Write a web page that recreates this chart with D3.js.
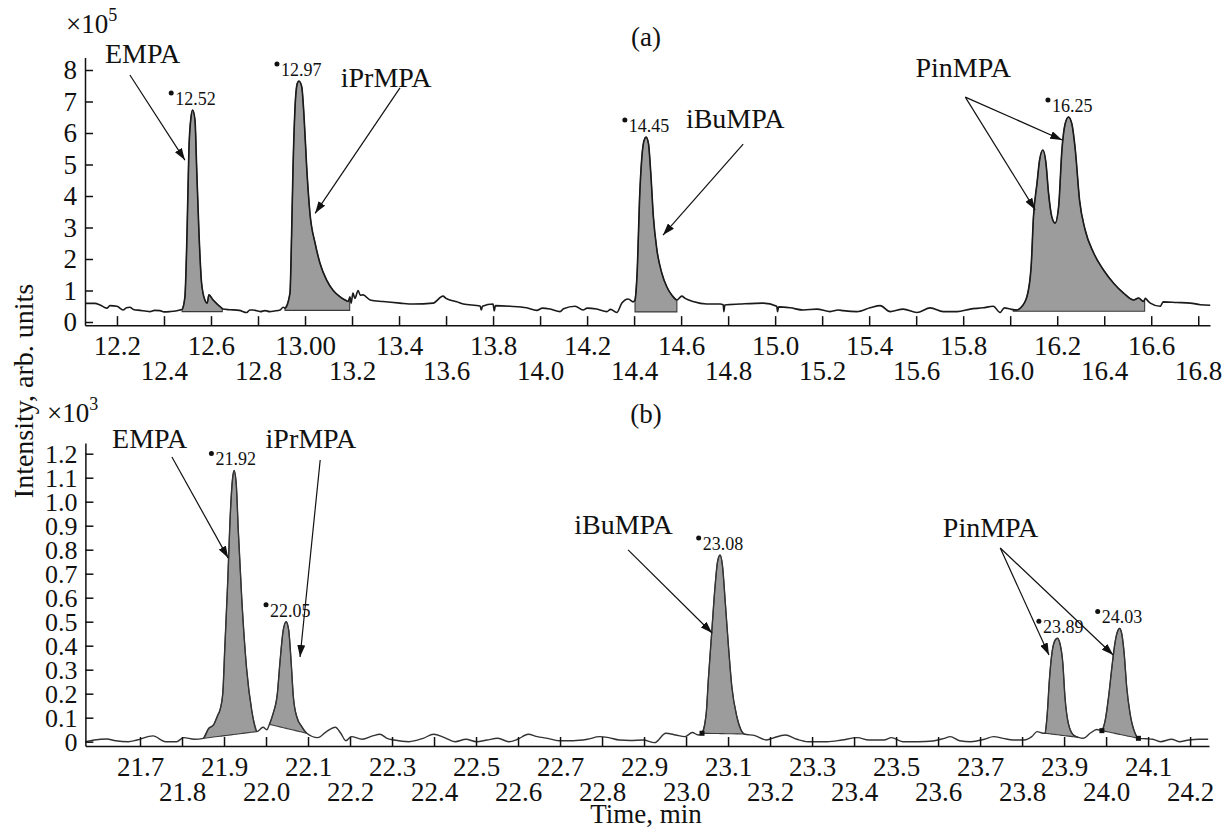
<!DOCTYPE html>
<html>
<head>
<meta charset="utf-8">
<script src="https://cdn.jsdelivr.net/npm/d3@7.9.0/dist/d3.min.js"></script>
<style>
  body { margin: 0; background: #fff; }
  svg { display: block; }
  text { font-family: "Liberation Serif", "Times New Roman", serif; fill: #111; }
</style>
</head>
<body>
<svg id="chart" width="1224" height="831"></svg>
<script>
// chromatogram (a), time in min, intensity x10^5
const traceA = [
  [12.064,0.59],[12.106,0.59],[12.128,0.54],[12.157,0.44],[12.17,0.52],[12.2,0.5],[12.226,0.38],[12.24,0.45],
  [12.255,0.47],[12.27,0.4],[12.298,0.37],[12.32,0.35],[12.34,0.33],[12.36,0.37],[12.383,0.36],[12.40,0.32],
  [12.425,0.33],[12.45,0.35],[12.468,0.38],[12.477,0.40],
  [12.489,0.8],[12.498,2.8],[12.506,5.46],[12.515,6.5],[12.522,6.73],[12.532,6.4],[12.539,4.9],[12.549,2.8],
  [12.56,1.23],[12.574,0.7],[12.584,0.6],[12.591,0.86],[12.609,0.7],[12.646,0.44],
  [12.651,0.41],[12.68,0.39],[12.72,0.37],[12.752,0.3],[12.765,0.38],[12.779,0.38],[12.81,0.33],[12.83,0.36],
  [12.85,0.33],[12.87,0.35],[12.894,0.38],[12.907,0.47],
  [12.915,0.44],[12.936,0.92],[12.943,2.8],[12.949,4.9],[12.957,6.73],[12.967,7.57],[12.974,7.65],[12.986,7.47],
  [12.996,6.5],[13.007,4.93],[13.021,3.45],[13.043,2.5],[13.064,1.86],[13.092,1.33],[13.12,1.0],[13.149,0.8],
  [13.175,0.68],[13.184,0.65],[13.191,0.8],[13.196,0.6],[13.204,0.92],[13.212,0.75],[13.226,1.0],[13.235,0.85],
  [13.247,0.86],[13.277,0.7],[13.332,0.65],[13.404,0.6],[13.46,0.57],[13.545,0.6],[13.587,0.82],[13.60,0.75],
  [13.617,0.7],[13.646,0.64],[13.673,0.57],[13.745,0.51],[13.75,0.38],[13.755,0.5],[13.8,0.57],[13.805,0.35],
  [13.81,0.52],[13.872,0.5],[13.943,0.45],[13.986,0.37],[14.01,0.44],[14.043,0.41],[14.085,0.33],[14.1,0.42],
  [14.149,0.5],[14.183,0.38],[14.2,0.44],[14.241,0.41],[14.284,0.33],[14.3,0.40],[14.326,0.30],[14.348,0.6],
  [14.375,0.73],[14.396,0.64],
  [14.404,0.7],[14.414,1.75],[14.423,3.87],[14.433,5.24],[14.443,5.78],[14.451,5.87],[14.461,5.67],[14.471,4.72],
  [14.482,3.34],[14.497,2.29],[14.518,1.55],[14.539,1.12],[14.56,0.86],[14.582,0.7],[14.603,0.82],[14.617,0.75],
  [14.651,0.65],[14.709,0.57],[14.766,0.57],[14.779,0.55],[14.782,0.33],[14.786,0.54],[14.851,0.57],[14.949,0.6],
  [15.007,0.5],[15.01,0.33],[15.015,0.48],[15.064,0.45],[15.12,0.38],[15.177,0.41],[15.234,0.33],[15.268,0.38],
  [15.289,0.36],[15.348,0.33],[15.404,0.45],[15.447,0.52],[15.489,0.33],[15.545,0.41],[15.603,0.30],[15.66,0.45],
  [15.715,0.33],[15.774,0.33],[15.83,0.41],[15.885,0.45],[15.928,0.5],[15.957,0.30],[15.975,0.45],[16.0,0.41],
  [16.028,0.38],
  [16.043,0.44],[16.071,0.8],[16.089,1.75],[16.099,3.34],[16.114,4.4],[16.125,5.14],[16.139,5.46],[16.152,5.05],
  [16.163,4.1],[16.177,3.34],[16.191,3.14],[16.206,3.66],[16.22,5.46],[16.234,6.3],[16.248,6.51],[16.262,6.3],
  [16.277,5.46],[16.295,3.87],[16.319,2.92],[16.355,2.19],[16.397,1.65],[16.44,1.23],[16.482,0.92],[16.525,0.7],
  [16.546,0.76],[16.567,0.65],[16.575,0.75],[16.582,0.7],[16.596,0.6],[16.638,0.5],[16.651,0.64],[16.709,0.62],
  [16.766,0.6],[16.809,0.55],[16.851,0.53]
];

// chromatogram (b), time in min, intensity x10^3
const traceB = [
  [21.570,0],[21.591,0.007],[21.621,0.011],[21.642,0.004],[21.672,0],[21.693,0.007],[21.731,0.024],[21.761,0],
  [21.787,0],[21.804,0.017],[21.829,0.01],[21.851,0.014],
  [21.863,0.054],[21.875,0.07],[21.885,0.11],[21.89,0.13],[21.897,0.2],[21.902,0.396],[21.909,0.674],[21.914,0.91],
  [21.92,1.09],[21.924,1.13],[21.929,1.077],[21.934,0.88],[21.942,0.604],[21.954,0.3],[21.966,0.13],[21.978,0.042],
  [21.993,0.06],[22.002,0.05],[22.008,0.072],
  [22.017,0.118],[22.027,0.2],[22.033,0.327],[22.041,0.465],[22.048,0.5],[22.054,0.465],[22.06,0.327],[22.065,0.188],
  [22.073,0.105],[22.085,0.063],[22.097,0.035],
  [22.123,0.017],[22.144,0.042],[22.165,0.06],[22.178,0.035],[22.19,0.004],[22.203,0.021],[22.229,0.01],[22.254,0.024],
  [22.271,0.031],[22.288,0.014],[22.305,0.007],[22.34,0],[22.374,0.014],[22.399,0.031],[22.425,0.017],[22.45,0],
  [22.476,0.01],[22.501,0],[22.526,0.007],[22.552,0.014],[22.578,0],[22.599,0.01],[22.624,0.031],[22.646,0.021],
  [22.671,0.014],[22.697,0.004],[22.731,0.004],[22.765,0.01],[22.794,0.021],[22.816,0.017],[22.841,0.007],[22.867,0.005],
  [22.898,0.007],[22.925,-0.004],[22.952,0.035],[22.975,0.028],[22.997,0.021],[23.015,0.038],[23.029,0.028],[23.038,0.035],
  [23.048,0.118],[23.053,0.257],[23.061,0.452],[23.069,0.646],[23.075,0.75],[23.081,0.778],[23.087,0.729],[23.093,0.59],
  [23.101,0.396],[23.109,0.229],[23.121,0.104],[23.133,0.042],[23.138,0.032],
  [23.164,0.025],[23.191,0.007],[23.205,0.014],[23.236,0.028],[23.264,0.01],[23.29,0],[23.336,0],[23.371,0.007],
  [23.408,0.017],[23.435,0.007],[23.471,0.007],[23.489,0.017],[23.516,0],[23.552,0],[23.588,0.003],[23.615,0.014],
  [23.629,0.021],[23.651,0.004],[23.678,0],[23.71,0.01],[23.732,0.021],[23.755,0.014],[23.778,0.007],[23.805,0.007],
  [23.823,0.021],[23.836,0.042],[23.85,0.035],
  [23.855,0.035],[23.86,0.118],[23.865,0.257],[23.871,0.368],[23.877,0.417],[23.884,0.431],[23.89,0.41],[23.897,0.327],
  [23.902,0.188],[23.91,0.077],[23.922,0.028],[23.934,0.018],[23.946,0.014],[23.962,0.035],[23.978,0.051],[23.99,0.046],
  [23.998,0.09],[24.006,0.188],[24.014,0.313],[24.021,0.41],[24.027,0.458],[24.032,0.472],[24.037,0.452],[24.043,0.368],
  [24.049,0.229],[24.057,0.118],[24.069,0.035],[24.077,0.014],
  [24.095,0.012],[24.111,0.01],[24.129,0],[24.156,0.01],[24.174,0],[24.197,0.007],[24.22,0.01],[24.243,0.01]
];

// integrated peaks: start/end time and baseline level at each end
const areasA = [[12.477,12.648,0.33,0.33],[12.915,13.19,0.37,0.37],[14.404,14.582,0.32,0.32],[16.013,16.572,0.34,0.34]];
const areasB = [[21.851,21.978,0.014,0.042],[22.008,22.097,0.072,0.035],[23.038,23.138,0.035,0.032],
                [23.855,23.934,0.035,0.018],[23.99,24.077,0.046,0.014]];
const marksB = [[23.038,0.035],[23.99,0.046],[24.077,0.014]];

const peaksA = ["12.52","12.97","14.45","16.25"];
const peaksB = ["21.92","22.05","23.08","23.89","24.03"];

const xTicksA = [12.2,12.4,12.6,12.8,13.0,13.2,13.4,13.6,13.8,14.0,14.2,14.4,14.6,14.8,15.0,15.2,15.4,15.6,15.8,16.0,16.2,16.4,16.6,16.8];
const xLabelsA = ["12.2","12.4","12.6","12.8","13.00","13.2","13.4","13.6","13.8","14.0","14.2","14.4","14.6","14.8","15.0","15.2","15.4","15.6","15.8","16.0","16.2","16.4","16.6","16.8"];
const yTicksA = [0,1,2,3,4,5,6,7,8];
const yLabelsA = ["0","1","2","3","4","5","6","7","8"];

const xTicksB = [21.7,21.8,21.9,22.0,22.1,22.2,22.3,22.4,22.5,22.6,22.7,22.8,22.9,23.0,23.1,23.2,23.3,23.4,23.5,23.6,23.7,23.8,23.9,24.0,24.1,24.2];
const xLabelsB = ["21.7","21.8","21.9","22.0","22.1","22.2","22.3","22.4","22.5","22.6","22.7","22.8","22.9","23.0","23.1","23.2","23.3","23.4","23.5","23.6","23.7","23.8","23.9","24.0","24.1","24.2"];
const yTicksB = [0,0.1,0.2,0.3,0.4,0.5,0.6,0.7,0.8,0.9,1.0,1.1,1.2];
const yLabelsB = ["0","0.1","0.2","0.3","0.4","0.5","0.6","0.7","0.8","0.9","1.0","1.1","1.2"];

// compound labels: label anchor (time, value), arrow tail, arrow tips
const compA = [
  {name:"EMPA",   at:[12.309,8.22], from:[12.255,7.84], to:[[12.489,5.14]]},
  {name:"iPrMPA", at:[13.345,7.46], from:[13.404,7.43], to:[[13.043,3.45]]},
  {name:"iBuMPA", at:[14.83,6.16],  from:[14.864,5.65], to:[[14.523,2.76]]},
  {name:"PinMPA", at:[15.8,7.78],   from:[15.809,7.14], to:[[16.106,3.56],[16.221,5.78]]}
];
const compB = [
  {name:"EMPA",   at:[21.723,1.224], from:[21.776,1.186], to:[[21.91,0.765]]},
  {name:"iPrMPA", at:[22.107,1.224], from:[22.129,1.174], to:[[22.081,0.353]]},
  {name:"iBuMPA", at:[22.851,0.865], from:[22.862,0.799], to:[[23.062,0.453]]},
  {name:"PinMPA", at:[23.725,0.853], from:[23.748,0.807], to:[[23.864,0.361],[24.017,0.361]]}
];

const svg = d3.select('#chart');

svg.append('defs').append('marker')
  .attr('id', 'arrow')
  .attr('viewBox', '0 0 12 8')
  .attr('refX', 12).attr('refY', 4)
  .attr('markerWidth', 12).attr('markerHeight', 8)
  .attr('markerUnits', 'userSpaceOnUse')
  .attr('orient', 'auto')
  .append('path').attr('d', 'M0,0 L12,4 L0,8 Z').attr('fill', '#111');

function drawPanel(p) {
  const g = svg.append('g');
  const x = d3.scaleLinear().domain(p.xDomain).range(p.xRange);
  const y = d3.scaleLinear().domain(p.yDomain).range(p.yRange);
  const axisY = p.yRange[0];

  // interpolate the trace for area edges
  const tr = p.trace;
  const valueAt = t => {
    const i = d3.bisector(d => d[0]).left(tr, t);
    if (i <= 0) return tr[0][1];
    if (i >= tr.length) return tr[tr.length - 1][1];
    const a = tr[i - 1], b = tr[i];
    return a[1] + (b[1] - a[1]) * (t - a[0]) / (b[0] - a[0]);
  };

  const area = d3.area()
    .x(d => x(d[0])).y0(d => y(d[2])).y1(d => y(Math.max(d[1], d[2])))
    .curve(d3.curveMonotoneX);

  p.areas.forEach(([t0, t1, b0, b1]) => {
    const base = t => b0 + (b1 - b0) * (t - t0) / (t1 - t0);
    const pts = [[t0, valueAt(t0), b0]];
    tr.filter(d => d[0] > t0 && d[0] < t1).forEach(d => pts.push([d[0], d[1], base(d[0])]));
    pts.push([t1, valueAt(t1), b1]);
    g.append('path').attr('d', area(pts))
      .attr('fill', '#9c9c9c').attr('stroke', '#3a3a3a').attr('stroke-width', 1.1);
  });

  const line = d3.line().x(d => x(d[0])).y(d => y(d[1])).curve(d3.curveMonotoneX);
  g.append('path').attr('d', line(tr))
    .attr('fill', 'none').attr('stroke', p.lineColor).attr('stroke-width', p.lineWidth)
    .attr('stroke-linejoin', 'round');

  (p.marks || []).forEach(d => {
    g.append('rect').attr('x', x(d[0]) - 2.5).attr('y', y(d[1]) - 2.5)
      .attr('width', 5).attr('height', 5).attr('fill', '#111');
  });

  // x axis: ticks point inward, labels on two staggered rows
  const xa = g.append('g').attr('transform', `translate(0,${axisY})`)
    .call(d3.axisBottom(x).tickValues(p.xTicks).tickSizeInner(-9).tickSizeOuter(0)
      .tickFormat((d, i) => p.xLabels[i]));
  xa.selectAll('text')
    .attr('dy', null)
    .attr('y', (d, i) => i % 2 === 0 ? 30 : 55)
    .style('font-family', '"Liberation Serif", serif').style('font-size', '27px');
  xa.selectAll('line, path').attr('stroke', '#111').attr('stroke-width', 1.5);

  const ya = g.append('g').attr('transform', `translate(${p.xRange[0]},0)`)
    .call(d3.axisLeft(y).tickValues(p.yTicks).tickSizeInner(-8).tickSizeOuter(0).tickPadding(8)
      .tickFormat((d, i) => p.yLabels[i]));
  ya.selectAll('text')
    .style('font-family', '"Liberation Serif", serif').style('font-size', p.yFont);
  ya.selectAll('line, path').attr('stroke', '#111').attr('stroke-width', 1.5);

  // multiplier
  const m = g.append('text').attr('x', p.multX).attr('y', p.multY).style('font-size', '27px');
  m.append('tspan').text('×10');
  m.append('tspan').attr('dy', -12).style('font-size', '18px').text(p.power);

  g.append('text').attr('x', 646).attr('y', p.titleY)
    .attr('text-anchor', 'middle').style('font-size', '27px').text(p.title);

  // retention-time labels at the apex of each peak
  p.peaks.forEach(lbl => {
    const t = +lbl;
    const apex = d3.max(tr.filter(d => Math.abs(d[0] - t) < 0.02), d => d[1]);
    const tx = x(t) - 17, ty = y(apex) - 5;
    g.append('circle').attr('cx', tx - 4).attr('cy', ty - 12).attr('r', 2.5).attr('fill', '#111');
    g.append('text').attr('x', tx).attr('y', ty).style('font-size', '18px').text(lbl);
  });

  // compound names with arrows
  p.comps.forEach(c => {
    g.append('text').attr('x', x(c.at[0])).attr('y', y(c.at[1]))
      .attr('text-anchor', 'middle').style('font-size', '28px').text(c.name);
    c.to.forEach(tip => {
      g.append('line')
        .attr('x1', x(c.from[0])).attr('y1', y(c.from[1]))
        .attr('x2', x(tip[0])).attr('y2', y(tip[1]))
        .attr('stroke', '#111').attr('stroke-width', 1.2)
        .attr('marker-end', 'url(#arrow)');
    });
  });
}

drawPanel({
  trace: traceA, areas: areasA, peaks: peaksA, comps: compA,
  xDomain: [12.064, 16.85], xRange: [85, 1210],
  yDomain: [-0.1, 8.4], yRange: [325.15, 57.4],
  xTicks: xTicksA, xLabels: xLabelsA, yTicks: yTicksA, yLabels: yLabelsA, yFont: '27px',
  lineColor: '#1a1a1a', lineWidth: 1.6,
  multX: 66, multY: 33, power: '5', title: '(a)', titleY: 46
});

drawPanel({
  trace: traceB, areas: areasB, peaks: peaksB, comps: compB, marks: marksB,
  xDomain: [21.57, 24.245], xRange: [85.4, 1209],
  yDomain: [-0.018, 1.245], yRange: [746, 442.9],
  xTicks: xTicksB, xLabels: xLabelsB, yTicks: yTicksB, yLabels: yLabelsB, yFont: '26px',
  lineColor: '#333', lineWidth: 1.4,
  multX: 47, multY: 422, power: '3', title: '(b)', titleY: 423
});

svg.append('text')
  .attr('transform', 'translate(33,391) rotate(-90)')
  .attr('text-anchor', 'middle').style('font-size', '28px')
  .text('Intensity, arb. units');

svg.append('text').attr('x', 646).attr('y', 823)
  .attr('text-anchor', 'middle').style('font-size', '27px')
  .text('Time, min');
</script>
</body>
</html>
